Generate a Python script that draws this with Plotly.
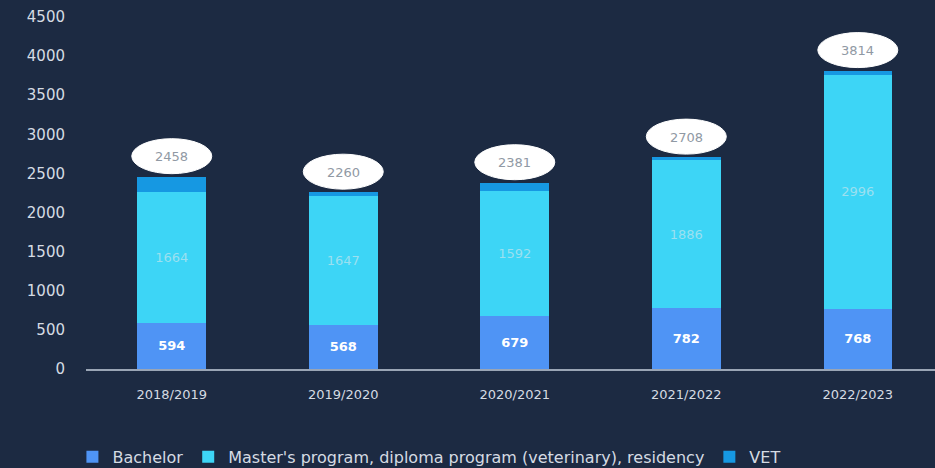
import plotly.graph_objects as go

years = ["2018/2019", "2019/2020", "2020/2021", "2021/2022", "2022/2023"]
bachelor = [594, 568, 679, 782, 768]
master = [1664, 1647, 1592, 1886, 2996]
vet = [200, 45, 110, 40, 50]
totals = [2458, 2260, 2381, 2708, 3814]

BG = "#1c2a42"
C_BACH = "#4f94f5"
C_MAST = "#3dd5f6"
C_VET = "#1698e2"
FONT = "DejaVu Sans"

fig = go.Figure()
fig.add_trace(go.Bar(
    name="Bachelor", x=years, y=bachelor, marker_color=C_BACH, width=0.4,
    text=[str(v) for v in bachelor], textposition="inside", insidetextanchor="middle",
    textfont=dict(color="white", size=13, family=FONT, weight="bold"), marker_line_width=0,
))
fig.add_trace(go.Bar(
    name="Master's program, diploma program (veterinary), residency", x=years, y=master,
    marker_color=C_MAST, width=0.4,
    text=[str(v) for v in master], textposition="inside", insidetextanchor="middle",
    textfont=dict(color="#9be0f0", size=13, family=FONT), marker_line_width=0,
))
fig.add_trace(go.Bar(
    name="VET", x=years, y=vet, marker_color=C_VET, width=0.4, marker_line_width=0,
))

for i, (yr, t) in enumerate(zip(years, totals)):
    top = bachelor[i] + master[i] + vet[i]
    fig.add_shape(type="circle", xref="x", yref="y",
                  xsizemode="pixel", ysizemode="pixel",
                  xanchor=i, yanchor=top, x0=-40, x1=40, y0=3, y1=38,
                  fillcolor="white", line=dict(color="white", width=1), layer="above")
    fig.add_annotation(x=i, y=top, text=str(t), showarrow=False, yshift=20,
                       font=dict(color="#9099a4", size=13, family=FONT))

fig.update_layout(
    barmode="stack",
    width=935, height=468,
    paper_bgcolor=BG, plot_bgcolor=BG,
    margin=dict(l=86, r=0, t=13, b=99, autoexpand=False),
    font=dict(family=FONT, color="#d5dbe3"),
    showlegend=True,
    legend=dict(orientation="h", x=-0.016, xanchor="left", y=-0.247, yanchor="middle",
                font=dict(size=16, color="#d5dbe3", family=FONT), bgcolor="rgba(0,0,0,0)",
                traceorder="normal"),
)
fig.update_xaxes(range=[-0.5, 4.45], showgrid=False, showline=True, linecolor="#9aa5b5",
                 linewidth=2, ticks="", tickfont=dict(size=13, color="#d5dbe3", family=FONT),
                 ticklabelstandoff=12)
fig.update_yaxes(range=[0, 4550], showgrid=False, zeroline=False, showline=False,
                 tickvals=list(range(0, 4501, 500)),
                 tickfont=dict(size=15, color="#d5dbe3", family=FONT),
                 ticklabelstandoff=20)

fig.write_html("out.html")
